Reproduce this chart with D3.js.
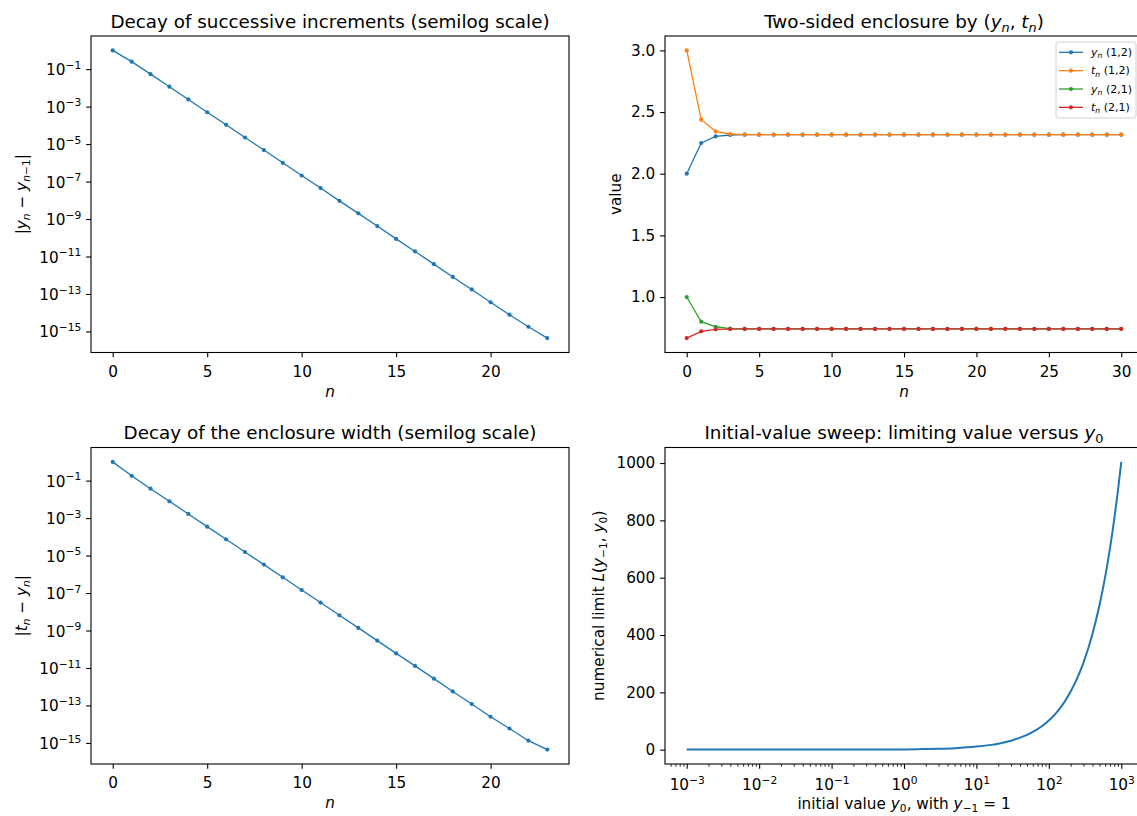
<!DOCTYPE html>
<html>
<head>
<meta charset="utf-8">
<script src="https://cdn.jsdelivr.net/npm/d3@7"></script>
<style>
  body { margin: 0; background: #fff; }
  svg { font-family: "DejaVu Sans", sans-serif; display: block; }
</style>
</head>
<body>
<div id="chart"></div>
<script>
// ---- data ----
var incrN = d3.range(24);
var incrValues = [1.0, 0.25, 5.4e-2, 1.15e-2, 2.4e-3, 5.0e-4, 1.07e-4, 2.24e-5,
  4.8e-6, 1.0e-6, 2.1e-7, 4.5e-8, 9.3e-9, 2.0e-9, 4.2e-10, 8.7e-11, 1.86e-11,
  3.9e-12, 8.1e-13, 1.74e-13, 3.6e-14, 7.8e-15, 1.78e-15, 4.4e-16];
var widthValues = [1.0, 0.18, 3.7e-2, 7.9e-3, 1.66e-3, 3.5e-4, 7.4e-5, 1.55e-5,
  3.3e-6, 6.9e-7, 1.45e-7, 3.1e-8, 6.5e-9, 1.38e-9, 2.9e-10, 6.0e-11, 1.29e-11,
  2.7e-12, 5.6e-13, 1.2e-13, 2.5e-14, 5.9e-15, 1.32e-15, 4.4e-16];

var encN = d3.range(31);
var y12 = [2.0, 2.249, 2.303, 2.314, 2.3162, 2.3163, 2.3163, 2.3163, 2.3163, 2.3163,
  2.3163, 2.3163, 2.3163, 2.3163, 2.3163, 2.3163, 2.3163, 2.3163, 2.3163, 2.3163,
  2.3163, 2.3163, 2.3163, 2.3163, 2.3163, 2.3163, 2.3163, 2.3163, 2.3163, 2.3163, 2.3163];
var t12 = [3.0, 2.438, 2.343, 2.322, 2.3168, 2.3164, 2.3163, 2.3163, 2.3163, 2.3163,
  2.3163, 2.3163, 2.3163, 2.3163, 2.3163, 2.3163, 2.3163, 2.3163, 2.3163, 2.3163,
  2.3163, 2.3163, 2.3163, 2.3163, 2.3163, 2.3163, 2.3163, 2.3163, 2.3163, 2.3163, 2.3163];
var y21 = [1.0, 0.800, 0.759, 0.744, 0.7416, 0.7414, 0.7414, 0.7414, 0.7414, 0.7414,
  0.7414, 0.7414, 0.7414, 0.7414, 0.7414, 0.7414, 0.7414, 0.7414, 0.7414, 0.7414,
  0.7414, 0.7414, 0.7414, 0.7414, 0.7414, 0.7414, 0.7414, 0.7414, 0.7414, 0.7414, 0.7414];
var t21 = [0.667, 0.722, 0.738, 0.7405, 0.7412, 0.7414, 0.7414, 0.7414, 0.7414, 0.7414,
  0.7414, 0.7414, 0.7414, 0.7414, 0.7414, 0.7414, 0.7414, 0.7414, 0.7414, 0.7414,
  0.7414, 0.7414, 0.7414, 0.7414, 0.7414, 0.7414, 0.7414, 0.7414, 0.7414, 0.7414, 0.7414];
var encSeries = [y12, t12, y21, t21];
var encNames = [['y', '(1,2)'], ['t', '(1,2)'], ['y', '(2,1)'], ['t', '(2,1)']];

var sweepY0 = [0.001, 0.01, 0.1, 0.3, 1, 2, 3, 5, 10, 15, 20, 30, 40, 50, 60, 80,
  100, 125, 150, 200, 250, 300, 400, 500, 600, 700, 800, 900, 1000];
var sweepL = [0.35, 0.37, 0.45, 0.6, 1.0, 2.32, 3.4, 5.5, 10.8, 16, 21, 31.5, 42, 52,
  62, 82, 102, 127, 152, 203, 253, 303, 404, 504, 604, 704, 804, 904, 1004];

var linTicksN1 = [0, 5, 10, 15, 20];
var linTicksN2 = [0, 5, 10, 15, 20, 25, 30];
var logTicksY = [-1, -3, -5, -7, -9, -11, -13, -15];
var encTicks = [1.0, 1.5, 2.0, 2.5, 3.0];
var sweepTicksY = [0, 200, 400, 600, 800, 1000];
var sweepTicksX = [-3, -2, -1, 0, 1, 2, 3];

var colors = ['#1f77b4', '#ff7f0e', '#2ca02c', '#d62728'];

// ---- layout ----
var W = 1137, H = 816;
var FS = 15.28, TS = 18.33;
var TICK = 4.86;
var PW = 478, PH = 316.5;
var frames = {
  tl: { x: 91, y: 36 },
  tr: { x: 665, y: 36 },
  bl: { x: 91, y: 447.5 },
  br: { x: 665, y: 447.5 }
};

var svg = d3.select('#chart').append('svg').attr('width', W).attr('height', H);

function pad(lo, hi) {
  var d = (hi - lo) * 0.05;
  return [lo - d, hi + d];
}
function padLog(lo, hi) {
  var p = pad(Math.log10(lo), Math.log10(hi));
  return [Math.pow(10, p[0]), Math.pow(10, p[1])];
}

// text with italic parts / sub- and superscripts
// (baseDy: vertical shift in px for the whole label, carried by the first tspan)
function rich(text, parts, size, baseDy) {
  var off = -(baseDy || 0);
  parts.forEach(function(p) {
    var s = p.sub || p.sup ? size * 0.7 : size;
    var target = p.sub ? size * 0.22 : p.sup ? -size * 0.42 : 0;
    text
      .append('tspan')
      .attr('font-size', s)
      .attr('font-style', p.i ? 'italic' : 'normal')
      .attr('dy', target - off)
      .text(p.t);
    off = target;
  });
}

function styleAxis(g) {
  g.attr('font-size', FS).attr('font-family', null);
  g.select('.domain').remove();
  g.selectAll('.tick line').attr('stroke', '#000').attr('stroke-width', 1.1);
  g.selectAll('.tick text').attr('fill', '#000');
}

function bottomText(g) {
  g.selectAll('.tick text').attr('dy', '0.96em');
}

function logLabels(emDy) {
  return function(g) {
    g.selectAll('.tick text').each(function(d) {
      var k = Math.round(Math.log10(d));
      var t = d3.select(this).text('').attr('dy', null);
      rich(t, [{ t: '10' }, { t: (k < 0 ? '\u2212' : '') + Math.abs(k), sup: true }], FS, emDy * FS);
    });
  };
}

function panel(f, title, xlabel, ylabel, ylabelX) {
  var g = svg.append('g').attr('transform', 'translate(' + f.x + ',' + f.y + ')');
  var t = g.append('text')
    .attr('x', PW / 2)
    .attr('y', -8.3)
    .attr('text-anchor', 'middle')
    .attr('font-size', TS)
    .attr('fill', '#000');
  rich(t, title, TS);
  var xl = g.append('text')
    .attr('x', PW / 2)
    .attr('y', xlabel.y)
    .attr('text-anchor', 'middle')
    .attr('font-size', FS)
    .attr('fill', '#000');
  rich(xl, xlabel.parts, FS);
  var yl = g.append('text')
    .attr('transform', 'translate(' + (ylabelX - f.x) + ',' + PH / 2 + ') rotate(-90)')
    .attr('text-anchor', 'middle')
    .attr('font-size', FS)
    .attr('fill', '#000');
  rich(yl, ylabel, FS);
  return g;
}

function frame(g) {
  g.append('rect')
    .attr('width', PW)
    .attr('height', PH)
    .attr('fill', 'none')
    .attr('stroke', '#000')
    .attr('stroke-width', 1.1);
}

function semilogPanel(f, values, title, ylabel) {
  var g = panel(f, title, { y: PH + 44, parts: [{ t: 'n', i: true }] }, ylabel, 27);
  var x = d3.scaleLinear().domain(pad(0, incrN.length - 1)).range([0, PW]);
  var y = d3.scaleLog().domain(padLog(d3.min(values), d3.max(values))).range([PH, 0]);

  g.append('g')
    .attr('transform', 'translate(0,' + PH + ')')
    .call(d3.axisBottom(x).tickValues(linTicksN1).tickFormat(d3.format('d'))
      .tickSize(TICK).tickPadding(TICK).tickSizeOuter(0))
    .call(styleAxis)
    .call(bottomText);
  g.append('g')
    .call(d3.axisLeft(y).tickValues(logTicksY.map(function(k) { return Math.pow(10, k); }))
      .tickSize(TICK).tickPadding(TICK).tickSizeOuter(0))
    .call(styleAxis)
    .call(logLabels(0.36));

  var line = d3.line()
    .x(function(d, i) { return x(incrN[i]); })
    .y(function(d) { return y(d); });
  g.append('path')
    .datum(values)
    .attr('d', line)
    .attr('fill', 'none')
    .attr('stroke', colors[0])
    .attr('stroke-width', 1.3);
  g.selectAll('circle.pt')
    .data(values)
    .enter()
    .append('circle')
    .attr('class', 'pt')
    .attr('cx', function(d, i) { return x(incrN[i]); })
    .attr('cy', function(d) { return y(d); })
    .attr('r', 2.1)
    .attr('fill', colors[0]);
  frame(g);
}

// ---- top-left ----
semilogPanel(frames.tl, incrValues,
  [{ t: 'Decay of successive increments (semilog scale)' }],
  [{ t: '|' }, { t: 'y', i: true }, { t: 'n', i: true, sub: true }, { t: ' \u2212 ' },
   { t: 'y', i: true }, { t: 'n', i: true, sub: true }, { t: '\u22121', sub: true }, { t: '|' }]);

// ---- bottom-left ----
semilogPanel(frames.bl, widthValues,
  [{ t: 'Decay of the enclosure width (semilog scale)' }],
  [{ t: '|' }, { t: 't', i: true }, { t: 'n', i: true, sub: true }, { t: ' \u2212 ' },
   { t: 'y', i: true }, { t: 'n', i: true, sub: true }, { t: '|' }]);

// ---- top-right ----
(function() {
  var f = frames.tr;
  var g = panel(f,
    [{ t: 'Two-sided enclosure by (' }, { t: 'y', i: true }, { t: 'n', i: true, sub: true },
     { t: ', ' }, { t: 't', i: true }, { t: 'n', i: true, sub: true }, { t: ')' }],
    { y: PH + 44, parts: [{ t: 'n', i: true }] },
    [{ t: 'value' }], 621);
  var all = d3.merge(encSeries);
  var x = d3.scaleLinear().domain(pad(0, encN.length - 1)).range([0, PW]);
  var y = d3.scaleLinear().domain(pad(d3.min(all), d3.max(all))).range([PH, 0]);

  g.append('g')
    .attr('transform', 'translate(0,' + PH + ')')
    .call(d3.axisBottom(x).tickValues(linTicksN2).tickFormat(d3.format('d'))
      .tickSize(TICK).tickPadding(TICK).tickSizeOuter(0))
    .call(styleAxis)
    .call(bottomText);
  g.append('g')
    .call(d3.axisLeft(y).tickValues(encTicks).tickFormat(d3.format('.1f'))
      .tickSize(TICK).tickPadding(TICK).tickSizeOuter(0))
    .call(styleAxis);

  var line = d3.line()
    .x(function(d, i) { return x(encN[i]); })
    .y(function(d) { return y(d); });
  encSeries.forEach(function(s, k) {
    g.append('path')
      .datum(s)
      .attr('d', line)
      .attr('fill', 'none')
      .attr('stroke', colors[k])
      .attr('stroke-width', 1.3);
    g.selectAll('circle.s' + k)
      .data(s)
      .enter()
      .append('circle')
      .attr('class', 's' + k)
      .attr('cx', function(d, i) { return x(encN[i]); })
      .attr('cy', function(d) { return y(d); })
      .attr('r', 2.1)
      .attr('fill', colors[k]);
  });
  frame(g);

  // legend
  var LF = 11;
  var lg = svg.append('g').attr('transform', 'translate(1056,42)');
  lg.append('rect')
    .attr('width', 80)
    .attr('height', 76)
    .attr('rx', 2.5)
    .attr('fill', '#fff')
    .attr('fill-opacity', 0.8)
    .attr('stroke', '#d0d0d0')
    .attr('stroke-width', 1);
  encNames.forEach(function(nm, k) {
    var cy = 10.3 + k * 18.35;
    lg.append('line')
      .attr('x1', 3).attr('x2', 27)
      .attr('y1', cy).attr('y2', cy)
      .attr('stroke', colors[k])
      .attr('stroke-width', 1.3);
    lg.append('circle')
      .attr('cx', 15).attr('cy', cy).attr('r', 2.1)
      .attr('fill', colors[k]);
    var t = lg.append('text')
      .attr('x', 35)
      .attr('y', cy + LF * 0.32)
      .attr('font-size', LF)
      .attr('fill', '#000');
    rich(t, [{ t: nm[0], i: true }, { t: 'n', i: true, sub: true }, { t: ' ' + nm[1] }], LF);
  });
})();

// ---- bottom-right ----
(function() {
  var f = frames.br;
  var g = panel(f,
    [{ t: 'Initial-value sweep: limiting value versus ' }, { t: 'y', i: true }, { t: '0', sub: true }],
    { y: PH + 45, parts: [{ t: 'initial value ' }, { t: 'y', i: true }, { t: '0', sub: true },
      { t: ', with ' }, { t: 'y', i: true }, { t: '\u22121', sub: true }, { t: ' = 1' }] },
    [{ t: 'numerical limit ' }, { t: 'L', i: true }, { t: '(' }, { t: 'y', i: true },
     { t: '\u22121', sub: true }, { t: ', ' }, { t: 'y', i: true }, { t: '0', sub: true }, { t: ')' }],
    604);
  var x = d3.scaleLog().domain(padLog(d3.min(sweepY0), d3.max(sweepY0))).range([0, PW]);
  var y = d3.scaleLinear().domain(pad(d3.min(sweepL), d3.max(sweepL))).range([PH, 0]);

  var minor = [];
  sweepTicksX.forEach(function(k) {
    for (var m = 2; m <= 9; m++) minor.push(m * Math.pow(10, k));
  });
  minor.push(0.5e-3, 0.6e-3, 0.7e-3, 0.8e-3, 0.9e-3);
  minor = minor.filter(function(v) { return v >= x.domain()[0] && v <= x.domain()[1]; });

  g.append('g')
    .attr('transform', 'translate(0,' + PH + ')')
    .call(d3.axisBottom(x).tickValues(minor).tickFormat('').tickSize(2.8).tickSizeOuter(0))
    .call(styleAxis)
    .selectAll('.tick line').attr('stroke-width', 0.8);
  g.append('g')
    .attr('transform', 'translate(0,' + PH + ')')
    .call(d3.axisBottom(x).tickValues(sweepTicksX.map(function(k) { return Math.pow(10, k); }))
      .tickSize(TICK).tickPadding(TICK).tickSizeOuter(0))
    .call(styleAxis)
    .call(logLabels(1.08));
  g.append('g')
    .call(d3.axisLeft(y).tickValues(sweepTicksY).tickFormat(d3.format('d'))
      .tickSize(TICK).tickPadding(TICK).tickSizeOuter(0))
    .call(styleAxis);

  var line = d3.line()
    .x(function(d, i) { return x(sweepY0[i]); })
    .y(function(d) { return y(d); })
    .curve(d3.curveMonotoneX);
  g.append('path')
    .datum(sweepL)
    .attr('d', line)
    .attr('fill', 'none')
    .attr('stroke', colors[0])
    .attr('stroke-width', 2);
  frame(g);
})();
</script>
</body>
</html>
